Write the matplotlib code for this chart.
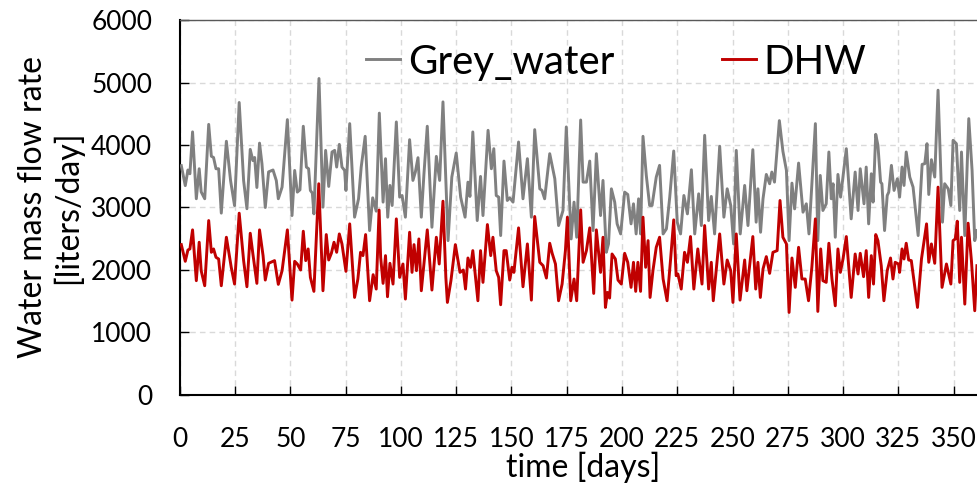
import matplotlib
matplotlib.use("Agg")
import matplotlib.pyplot as plt

plt.rcParams['font.family'] = ['Lato', 'DejaVu Sans']

# Daily water demand over one year (day of year, litres/day)
grey_days = [0.6, 2.4, 3.6, 4.5, 5.7, 7.4, 8.7, 9.6, 11.2, 13, 14.2, 15.2, 16.3, 17.5, 18.7, 21, 22.9, 24.7,
             26.8, 28.8, 30.3, 31.8, 33, 33.8, 34.8, 36, 37.1, 38.6, 40.1, 42.1, 43.6, 44.5,
             46.2, 48.6, 50.7, 51.9, 53.1, 54.3, 55.8, 57.2, 58.2, 59, 59.9, 60.6, 62.9, 64.7, 65.9, 67.3,
             68.8, 70, 70.9, 72.1, 73.3, 74.5, 75.1, 76.8, 79, 80.8, 82, 83.8, 85.8, 87.2, 88.8,
             90.2, 91.9, 93, 94, 95, 96, 97.9, 99.4, 100.5, 102, 103.9, 105.4, 106.5, 107.7, 109.2, 110.4,
             111.9, 114, 116, 117.5, 119, 121.3, 123, 125, 127, 129, 130.3, 131.2, 132.5, 134.5,
             136, 137.1, 139.4, 140.9, 142, 143.1, 144.2, 145.1, 146.6, 148.1, 149.2, 150.7, 153.2, 155.2,
             157.2, 159, 160.5, 162.8, 163.8, 165, 167.3, 169.6, 171.3, 173.3, 174.8, 177, 178.3, 179.5,
             181.3, 182.4, 183.9, 185.4, 186.9, 188.4, 190.3, 191.4, 192.9, 193.9, 195.2, 196.7, 197.8,
             199.4, 201.2, 202.6, 204.1, 205.2, 206.4, 207.5, 208.4, 209.5, 211, 212.5, 213.6, 215.5, 217,
             218.6, 220.1, 221.6, 223.4, 225, 226.5, 228, 229.6, 231.4, 232.9, 234.7, 235.9, 237.4, 239.2,
             240.4, 241.9, 244.2, 246.1, 247.6, 249.2, 250.5, 251.7, 253.5, 255.5, 257, 259.2, 260.7,
             261.5, 262.7, 263.8, 265.3, 266.8, 267.8, 269, 271.2, 272.8, 274.4, 275.6, 276.9, 278.1,
             279.9, 281.9, 283.4, 284.6, 287.5, 288.6, 289.7, 290.9, 292.4, 293.6, 294.7, 295.5, 296.5,
             297.7, 298.9, 301.5, 303.7, 305.5, 306.8, 307.8, 309.5, 310.5, 311.6, 312.8, 313.6, 314.8,
             315.8, 317, 317.6, 318.8, 320, 320.7, 321.9, 323.1, 324.6, 325.6, 326.7, 327.6, 328.6, 330.2,
             331.7, 334, 335.8, 337, 338, 338.8, 340, 341.5, 343, 345, 346, 347.6, 348.8, 349.8, 351.3,
             352.8, 353.6, 355.1, 356.9, 358.4, 359.6, 360.6]
grey_water = [3670, 3350, 3600, 3540, 4210, 3140, 3620, 3250, 3140, 4330, 3820, 3800, 3620, 3620, 2910, 4060, 3430, 3030,
              4680, 3430, 2980, 3930, 3750, 3800, 3320, 4030, 3700, 3000, 3570, 3600, 3430, 3140,
              3326, 4406, 2871, 3593, 3246, 3283, 4300, 3647, 3620, 3273, 3230, 2898, 5064, 3005, 3914, 3337,
              3888, 3914, 3647, 4010, 3647, 3593, 3273, 4342, 2845, 3139, 3647, 4139, 2631, 3155, 2941,
              4510, 3086, 3781, 2845, 3353, 3032, 4369, 3166, 3192, 2845, 4085, 3433, 3567, 3797, 2845, 3540,
              4300, 2684, 3818, 3433, 4690, 2470, 3487, 3872, 3166, 2845, 3406, 3177, 4209, 2791,
              3497, 2871, 4235, 3620, 3941, 3192, 3166, 2551, 3743, 3112, 3155, 3086, 4048, 3139,
              3781, 2845, 4246, 3299, 3273, 3139, 3861, 3460, 2711, 2952, 4289, 2497, 3086, 2524,
              4400, 3406, 3406, 3743, 2631, 3861, 2871, 3433, 2283, 2417, 3299, 3086, 2738,
              2577, 3246, 3208, 2738, 3059, 2577, 3139, 2577, 4139, 3513, 3032, 3032, 3487, 3674,
              2577, 2658, 3166, 3904, 2765, 2577, 3192, 2898, 3604, 2577, 3219, 2711, 4155, 2791,
              3177, 2577, 3979, 2845, 3299, 3032, 2417, 3914, 2577, 3353, 2711, 3925, 2765,
              3299, 2604, 3139, 3529, 3380, 3567, 3406, 4390, 3900, 3593, 2470, 3390, 2978,
              3711, 2925, 3059, 2577, 4342, 2470, 3513, 2952, 3059, 3888, 3139, 3380, 2524,
              3529, 3166, 3941, 2818, 3567, 2952, 3620, 3059, 3647, 2738, 3540, 3086, 4171,
              3995, 3406, 3380, 2631, 3192, 3246, 3674, 3273, 3460, 3166, 3647, 3353, 3888, 3487,
              3326, 2551, 3690, 3701, 4021, 3208, 3765, 3487, 4877, 2765, 3380, 3299, 3032, 4075, 4021,
              2952, 3888, 2551, 4422, 3593, 2470, 2631]

dhw_days = [0.6, 2.4, 3.6, 4.5, 5.7, 7.4, 8.7, 9.6, 11.2, 13, 14.2, 15.2, 16.3, 17.5, 18.7, 21, 23.2, 24.7,
            26.8, 28.8, 30.3, 31.8, 33, 34.8, 36, 37.6, 38.6, 40.1, 42.8, 44.5,
            46.2, 48.6, 50.7, 51.9, 53.1, 54.6, 55.8, 56.9, 58, 59, 60.6, 62.8, 64.7, 66.2, 67.3, 68.5,
            69.7, 70.9, 72.1, 73.3, 75.1, 76.8, 79, 80.5, 81.7, 82.8, 84, 85.8, 87.4, 88.8, 90.1,
            90.8, 91.9, 93, 93.9, 95, 96.4, 97.9, 99.4, 100.9, 102, 103.9, 105, 105.9, 107, 108.1, 109.2,
            111.9, 114, 116, 117.3, 119, 120.3, 121, 122.6, 124.6, 126.7, 128.2, 129.2, 130.3, 131.5,
            132.5, 134.8, 136, 137.1, 139.1, 140.6, 141.6, 143.1, 144.2, 145.1, 146.6, 147.6, 149.2,
            150.2, 151.1, 153.2, 155.2, 157.2, 159, 160.5, 162.8, 164.3, 165.8, 167.3, 168.4, 169.9,
            171.3, 172.9, 174.4, 175.3, 176.8, 178.3, 179.5, 181.3, 182.4, 183.9, 185.4, 187.2, 188.4,
            190.3, 191.4, 192.5, 193.4, 194.4, 195.5, 197, 198.2, 199.7, 201.2, 202.6, 204.1, 205.2,
            206.2, 207.2, 208.4, 209.5, 210.7, 211.8, 212.7, 214, 215.5, 217, 218.6, 220.4, 222, 223.4,
            224.5, 225.3, 226.8, 228.3, 229.6, 231, 232.5, 234.3, 236.2, 237.4, 239.2, 240.4, 241.3,
            244.2, 246.1, 247.6, 249.2, 250.2, 251.7, 253.4, 255.5, 256.5, 259.2, 260.5, 261.5, 262.6,
            263.8, 265.3, 266.8, 268.3, 270.2, 271.5, 272.8, 274.4, 275.6, 276.9, 278.4, 279.9, 281.4,
            282.9, 284.4, 285.9, 287.5, 288.6, 289.9, 290.9, 292.4, 293.6, 295, 296.5, 297.7, 298.8,
            300, 301.5, 303.7, 305.5, 306.8, 307.8, 309.3, 310.5, 311.6, 312.8, 313.8, 314.8, 315.8,
            317.3, 318.5, 320, 321.5, 322.6, 323.6, 325.1, 325.6, 326.7, 327.6, 328.6, 329.7, 330.9,
            333.7, 335.5, 337.8, 338.8, 340, 341.5, 343, 344.8, 346.8, 348.8, 349.8, 350.8, 351.7,
            352.8, 353.6, 355.1, 356.6, 358.1, 359.6, 360.6]
dhw = [2406, 2139, 2320, 2337, 2642, 1829, 2444, 1989, 1748, 2791, 2283, 2337, 2203, 2176, 1748, 2524, 2043, 1775,
       2909, 2150, 1732, 2588, 2256, 1786, 2642, 2230, 1839, 2107, 2150, 1770,
       1989, 2642, 1518, 2139, 2096, 2000, 2620, 2150, 2337, 1882, 1658, 3380, 1668, 2567, 2160, 2267,
       2444, 2283, 2577, 2417, 1978, 2738, 1561, 1856, 2283, 2230, 2567, 1508, 1925, 1695, 2960,
       2203, 1786, 2230, 1572, 2107, 1775, 2818, 1882, 2096, 1535, 2604, 1962, 2406, 1989, 2497, 1668,
       2642, 1679, 2524, 2096, 3101, 1882, 1481, 1829, 2406, 1962, 2000, 1695, 2192, 2043,
       2310, 1508, 2310, 1802, 2727, 2230, 2524, 1989, 1882, 1444, 2310, 2310, 1839,
       2043, 1962, 2674, 1732, 2417, 1518, 2856, 2123, 2069, 1871, 2428, 2267, 2096,
       1508, 1775, 2310, 2845, 1508, 1856, 1508, 2962, 2123, 2310, 2674, 1625, 2642,
       1962, 2524, 1401, 1641, 1551, 2256, 2176, 1839, 1775, 2267, 2123, 1722, 2123,
       1658, 2123, 1658, 2845, 2043, 2470, 1561, 1989, 2363, 2524, 1856, 1508, 2176, 2802,
       1909, 1936, 1695, 2283, 2123, 2535, 1695, 2337, 1775, 2711, 1695, 2123, 1508,
       2577, 1775, 2160, 1989, 1481, 2577, 1518, 2160, 1668, 2535, 1695, 2123, 1561,
       2016, 2214, 1946, 2283, 2310, 3112, 2524, 2417, 1321, 2192, 1722, 2363, 1856,
       1856, 1508, 2043, 2818, 1337, 2337, 1829, 1802, 2428, 1856, 1427, 2337, 1962,
       2176, 2535, 1561, 2256, 1936, 2267, 1893, 2310, 1561, 2230, 1775, 2567, 2470,
       2069, 1508, 1989, 2192, 1856, 2123, 2096, 1962, 2337, 2176, 2428, 2160, 2150,
       1401, 2176, 2738, 2123, 2417, 2107, 3326, 1722, 2096, 1775, 2470, 2497, 2781,
       1802, 2524, 1454, 2749, 2150, 1348, 2069]

x_ticks = list(range(0, 351, 25))
y_ticks = list(range(0, 6001, 1000))

fig = plt.figure(figsize=(9.77, 4.88), dpi=100)
ax = fig.add_axes([0.1842, 0.1906, 0.8257, 0.7684])

ax.plot(grey_days, grey_water, color='#808080', lw=2.1, label='Grey_water', zorder=3)
ax.plot(dhw_days, dhw, color='#C00000', lw=2.1, label='DHW', zorder=3)

ax.set_xlim(0, 365)
ax.set_ylim(0, 6000)
ax.set_xticks(x_ticks)
ax.set_yticks(y_ticks)
ax.tick_params(axis='both', direction='in', length=6.5, width=1.0, labelsize=19, color='black')
ax.tick_params(axis='x', pad=23)
ax.tick_params(axis='y', pad=20)

ax.grid(True, color='#d9d9d9', linestyle=(0, (4, 3)), linewidth=1.0, zorder=0)
for side in ('left', 'bottom'):
    ax.spines[side].set_color('black')
    ax.spines[side].set_linewidth(1.5)
ax.spines['top'].set_color('#595959')
ax.spines['top'].set_linewidth(1.0)
ax.spines['right'].set_visible(False)

ax.set_xlabel('time [days]', fontsize=23, labelpad=0)
ax.set_ylabel('Water mass flow rate\n[liters/day]', fontsize=23, labelpad=6, linespacing=1.15)

ax.legend(loc='center', bbox_to_anchor=(0.541, 0.888), ncol=2, frameon=False, fontsize=29,
          handlelength=0.85, handletextpad=0.2, columnspacing=2.65, borderaxespad=0)

fig.savefig('out.png', dpi=100)
